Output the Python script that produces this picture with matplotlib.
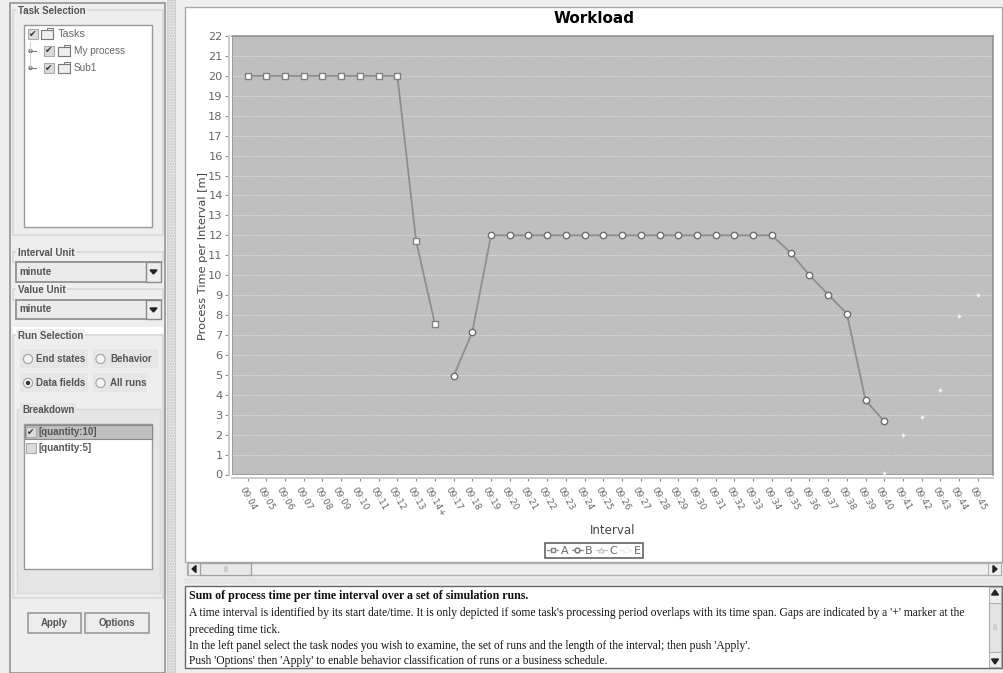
import numpy as np
import matplotlib
matplotlib.use("Agg")
import matplotlib.pyplot as plt
from matplotlib.patches import Rectangle, Circle

# ---------- data ----------
categories = ["09:04", "09:05", "09:06", "09:07", "09:08", "09:09", "09:10", "09:11", "09:12", "09:13",
              "09:14+", "09:17", "09:18", "09:19", "09:20", "09:21", "09:22", "09:23", "09:24", "09:25",
              "09:26", "09:27", "09:28", "09:29", "09:30", "09:31", "09:32", "09:33", "09:34", "09:35",
              "09:36", "09:37", "09:38", "09:39", "09:40", "09:41", "09:42", "09:43", "09:44", "09:45"]
nan = float("nan")
series_a = [20, 20, 20, 20, 20, 20, 20, 20, 20, 11.72, 7.57] + [nan] * 29
series_b = [nan] * 11 + [4.93, 7.15, 12, 12, 12, 12, 12, 12, 12, 12, 12, 12, 12, 12, 12, 12, 12,
                         12, 11.12, 10.0, 9.03, 8.07, 3.72, 2.67] + [nan] * 5
series_c = [nan] * 40
series_e = [nan] * 34 + [0.1, 1.97, 2.87, 4.22, 7.93, 9.03]
y_ticks = list(range(0, 23))

W, H = 1004, 673
fig = plt.figure(figsize=(W / 100, H / 100), dpi=100, facecolor="#eeeeee")

# ---------- application chrome (pixel coordinates) ----------
ui = fig.add_axes([0, 0, 1, 1], zorder=0)
ui.set_xlim(0, W); ui.set_ylim(H, 0); ui.axis("off")

def rect(x0, y0, x1, y1, fc="none", ec="none", lw=1.0, **kw):
    ui.add_patch(Rectangle((x0, y0), x1 - x0, y1 - y0, facecolor=fc, edgecolor=ec, linewidth=lw, **kw))

def label(x, y, s, size=7.0, color="#555555", weight="normal", family="Liberation Sans", **kw):
    ui.text(x, y, s, fontsize=size, color=color, fontweight=weight, family=family,
            va="center", ha=kw.pop("ha", "left"), **kw)

def group(x0, y0, x1, y1, title, fc="none", tx=None):
    rect(x0, y0, x1, y1, fc=fc, ec="#d8d8d8", lw=1.2)
    t = ui.text((tx or x0 + 5), y0 + 1, title, fontsize=7.0, color="#555555", fontweight="bold",
                family="Liberation Sans", va="center", ha="left")
    t.set_bbox(dict(facecolor="#eeeeee", edgecolor="none", pad=1.2))

def check(x, y, on=True):
    rect(x, y - 5, x + 10, y + 5, fc="#dcdcdc", ec="#aaaaaa", lw=0.8)
    if on:
        ui.text(x + 5, y, "\u2714", fontsize=6.5, color="#333333", ha="center", va="center", family="DejaVu Sans")

def folder(x, y):
    rect(x, y - 4, x + 12, y + 5, fc="#eeeeee", ec="#777777", lw=0.8)
    rect(x + 6, y - 6, x + 12, y - 4, fc="#eeeeee", ec="#777777", lw=0.7)

def radio(x, y, on=False):
    ui.add_patch(Circle((x, y), 4.6, facecolor="#f4f4f4", edgecolor="#a8a8a8", linewidth=0.9))
    if on:
        ui.add_patch(Circle((x, y), 2.2, facecolor="#333333", edgecolor="none"))

def combo(y0, y1, text):
    rect(16, y0, 161, y1, fc="#ebebeb", ec="#8a8a8a", lw=1.2)
    rect(146, y0, 161, y1, fc="#eeeeee", ec="#8a8a8a", lw=1.0)
    ui.fill([150, 157, 153.5], [y0 + 8, y0 + 8, y0 + 12], color="#222222")
    label(19, (y0 + y1) / 2, text, weight="bold")

def button(x0, x1, y0, y1, text):
    rect(x0, y0, x1, y1, fc="#ececec", ec="#9a9a9a", lw=1.2)
    label((x0 + x1) / 2, (y0 + y1) / 2, text, weight="bold", ha="center")

# outer frames
rect(10, 3, 165, 673, fc="#eeeeee", ec="#8c8c8c", lw=1.1)
rect(167.5, 0, 175, 673, fc="#e4e4e4", ec="#c8c8c8", lw=0.5, hatch="......")
rect(176, 0, 183, 673, fc="#eeeeee")

# task selection
group(13, 10, 163, 235, "Task Selection")
rect(24, 25, 152, 227, fc="white", ec="#999999", lw=1.0)
check(28, 34); folder(41, 34); label(58, 34, "Tasks", size=7.8, color="#666666")
ui.plot([30, 30], [42, 68], color="#d0d0d0", lw=0.7)
for yy, name in [(51, "My process"), (68, "Sub1")]:
    ui.plot([29, 36], [yy, yy], color="#777777", lw=0.8)
    ui.add_patch(Circle((30.5, yy), 1.7, facecolor="white", edgecolor="#777777", linewidth=0.7))
    check(44, yy); folder(58, yy); label(74, yy, name, size=7.2, color="#666666")

# units
group(13, 252, 163, 262, "Interval Unit")
combo(262, 282, "minute")
group(13, 289, 163, 300, "Value Unit")
combo(300, 319, "minute")

# run selection
rect(13, 327, 163, 335, fc="white")
group(13, 335, 163, 598, "Run Selection")
for (x0, x1, y0, y1) in [(20, 88, 349, 368), (93, 158, 349, 368), (20, 88, 373, 392), (93, 147, 373, 392)]:
    rect(x0, y0, x1, y1, fc="#e6e6e6")
radio(28, 359); label(36, 359, "End states", weight="bold")
radio(100.5, 359); label(110, 359, "Behavior", weight="bold")
radio(28, 383, on=True); label(36, 383, "Data fields", weight="bold")
radio(100.5, 383); label(110, 383, "All runs", weight="bold")

# breakdown
rect(17, 409, 160, 593, fc="#e6e6e6", ec="#d8d8d8", lw=1.0)
t = ui.text(22, 410, "Breakdown", fontsize=7.0, color="#555555", fontweight="bold",
            family="Liberation Sans", va="center", ha="left")
t.set_bbox(dict(facecolor="#e6e6e6", edgecolor="none", pad=1.2))
rect(24, 424, 152, 569, fc="white", ec="#999999", lw=1.0)
rect(25, 425, 152, 439, fc="#c0c0c0", ec="#888888", lw=0.8)
check(26, 432); label(39, 432, "[quantity:10]", weight="bold")
check(26, 448, on=False); label(39, 448, "[quantity:5]", weight="bold")

button(28, 81, 613, 633, "Apply")
button(85, 149, 613, 633, "Options")

# chart panel
rect(185, 7, 1002, 562, fc="white", ec="#a8a8a8", lw=1.0)

# horizontal scrollbar
rect(187, 563, 1001, 575, fc="#eeeeee", ec="#b0b0b0", lw=1.0)
rect(188, 563, 200, 575, fc="#eeeeee", ec="#b0b0b0", lw=0.8)
rect(988, 563, 1001, 575, fc="#eeeeee", ec="#b0b0b0", lw=0.8)
rect(200, 563, 251, 575, fc="#e8e8e8", ec="#a0a0a0", lw=0.9)
rect(224, 566, 228, 572, fc="#cfcfcf")
ui.fill([192, 196, 196], [569, 565.5, 572.5], color="#222222")
ui.fill([997, 993, 993], [569, 565.5, 572.5], color="#222222")

# horizontal splitter
rect(184, 578, 1004, 584, fc="#e4e4e4", ec="none", hatch="......")

# description box
rect(185, 586, 1002, 668, fc="white", ec="#666666", lw=1.0)
rect(989, 587, 1001, 667, fc="#eeeeee", ec="#b0b0b0", lw=0.8)
rect(989, 603, 1001, 652, fc="#e4e4e4", ec="#b0b0b0", lw=0.8)
rect(993, 624, 997, 630, fc="#cfcfcf")
ui.fill([995, 991.5, 998.5], [590, 595, 595], color="#222222")
ui.fill([995, 991.5, 998.5], [664, 659, 659], color="#222222")
desc = [
    (596, "Sum of process time per time interval over a set of simulation runs.", "bold", 8.6),
    (613, "A time interval is identified by its start date/time. It is only depicted if some task's processing period overlaps with its time span. Gaps are indicated by a '+' marker at the", "normal", 8.3),
    (630, "preceding time tick.", "normal", 8.3),
    (646, "In the left panel select the task nodes you wish to examine, the set of runs and the length of the interval; then push 'Apply'.", "normal", 8.3),
    (661, "Push 'Options' then 'Apply' to enable behavior classification of runs or a business schedule.", "normal", 8.3),
]
for yy, s, w, sz in desc:
    label(189, yy, s, size=sz, color="#111111", weight=w, family="Liberation Serif")

# ---------- chart ----------
px_l, px_r, px_t, px_b = 232.0, 993.5, 36.0, 474.5
ax = fig.add_axes([px_l / W, 1 - px_b / H, (px_r - px_l) / W, (px_b - px_t) / H], zorder=2)
ax.set_facecolor("#bfbfbf")
x = np.arange(len(categories))

line_grey = "#8e8e8e"
l_a, = ax.plot(x, series_a, color=line_grey, lw=1.3, marker="s", ms=4.2, mfc="white", mec="#808080", mew=1.0,
               label="A", clip_on=False, zorder=4)
l_b, = ax.plot(x, series_b, color=line_grey, lw=1.3, marker="o", ms=4.6, mfc="white", mec="#6e6e6e", mew=1.0,
               label="B", clip_on=False, zorder=4)
l_c, = ax.plot(x, series_c, color="#c4c4c4", lw=1.0, marker="^", ms=4.5, mfc="white", mec="#c4c4c4", mew=0.8,
               label="C", zorder=3)
l_e, = ax.plot(x, series_e, color="#c3c3c3", lw=0.6, marker="D", ms=2.0, mfc="#f4f4f4", mec="#e8e8e8", mew=0.3,
               label="E", clip_on=False, zorder=3)

ax.set_xlim(-0.83, 39.83)
ax.set_ylim(0, 22)
ax.set_yticks(y_ticks)
ax.set_xticks(x, labels=categories)
ax.tick_params(axis="y", labelsize=8.2, labelcolor="#666666", length=3, width=0.8, color="#888888", pad=1.5)
ax.tick_params(axis="x", labelsize=6.4, labelcolor="#666666", length=2.5, width=0.8, color="#888888", pad=3,
               labelrotation=-60)
plt.setp(ax.get_xticklabels(), rotation=-60, ha="left", va="top", rotation_mode="anchor")
ax.grid(axis="y", color="#dedede", lw=0.7, ls=(0, (1.5, 1.5)))
ax.set_axisbelow(True)

for s in ("top", "right"):
    ax.spines[s].set_color("#959595"); ax.spines[s].set_linewidth(1.2)
for s in ("left", "bottom"):
    ax.spines[s].set_position(("outward", 2.2))
    ax.spines[s].set_color("#cccccc"); ax.spines[s].set_linewidth(1.4)
ax.add_patch(Rectangle((0, 0), 1, 1, transform=ax.transAxes, facecolor="none", edgecolor="#959595",
                       linewidth=1.2, zorder=2.5))

fig.text(594 / W, 1 - 18.5 / H, "Workload", fontsize=11, fontweight="bold", color="black",
         ha="center", va="center", family="DejaVu Sans")
fig.text(203 / W, 1 - 256 / H, "Process Time per Interval [m]", fontsize=8.2, color="#444444",
         rotation=90, ha="center", va="center", family="DejaVu Sans", zorder=5)
fig.text(613 / W, 1 - 530 / H, "Interval", fontsize=8.5, color="#444444",
         ha="center", va="center", family="DejaVu Sans", zorder=5)

leg = fig.legend(handles=[l_a, l_b, l_c, l_e], loc="center", bbox_to_anchor=(594 / W, 1 - 550.5 / H), ncol=4,
                 frameon=True, fancybox=False, edgecolor="#555555", facecolor="white", framealpha=1,
                 handlelength=1.0, handletextpad=0.2, columnspacing=0.3, borderpad=0.25, borderaxespad=0,
                 labelcolor="#666666", prop={"family": "DejaVu Sans", "size": 8})
leg.get_frame().set_linewidth(1.1)
for h in leg.legend_handles:
    h.set_linewidth(0.9)
    h.set_markersize(3.5)
leg.legend_handles[3].set_markeredgecolor("#dddddd")
leg.legend_handles[3].set_markerfacecolor("white")
leg.legend_handles[3].set_color("#e2e2e2")

fig.savefig("out.png", dpi=100, facecolor=fig.get_facecolor())
